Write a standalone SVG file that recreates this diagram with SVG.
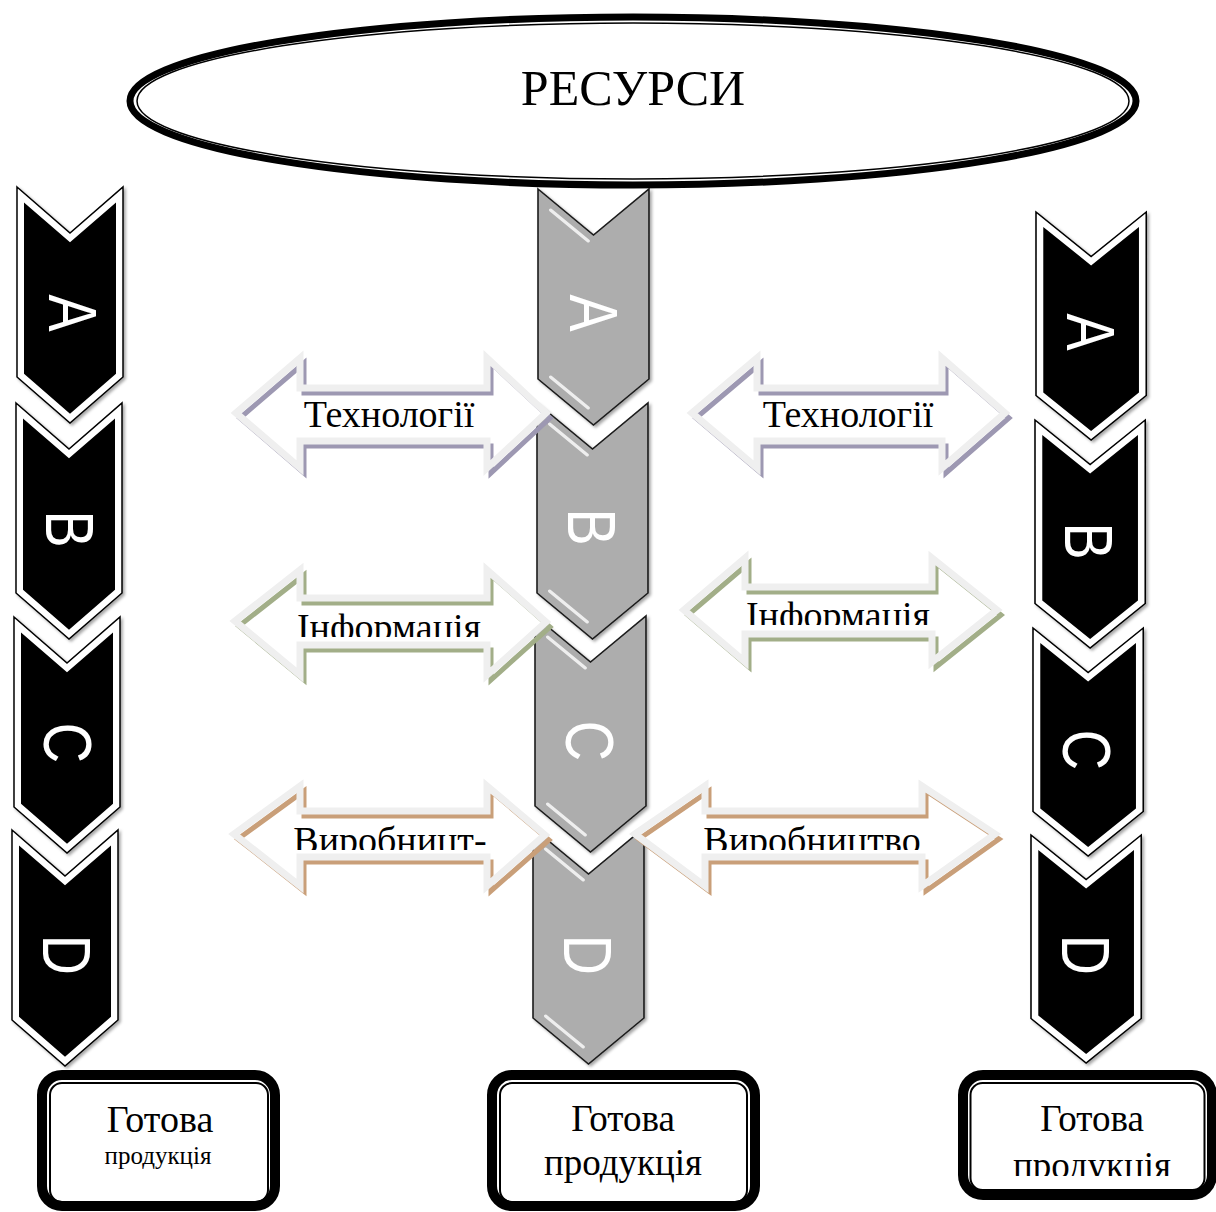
<svg xmlns="http://www.w3.org/2000/svg" xmlns:xlink="http://www.w3.org/1999/xlink" width="1216" height="1212" viewBox="0 0 1216 1212">
<style>
.let{font-family:"Liberation Sans",Arial,sans-serif;font-size:68px;fill:#fff;text-anchor:middle;dominant-baseline:central}
.atx{font-family:"Liberation Serif","Times New Roman",serif;font-size:38px;fill:#000;text-anchor:middle}
.btx{font-family:"Liberation Serif","Times New Roman",serif;fill:#000;text-anchor:middle}
.afill{fill:#fff;stroke:none}
.amain{fill:none;stroke:#efefef;stroke-width:7;stroke-linejoin:miter}
.sh1{fill:none;stroke:#9d98b2;stroke-width:5}
.sh2{fill:none;stroke:#a2ae88;stroke-width:5}
.sh3{fill:none;stroke:#c99f79;stroke-width:5}
.hl{stroke:#fff;stroke-width:3;stroke-linecap:round;opacity:.8}
</style>
<defs>
<path id="chev" d="M0,0 L53,46 L106,0 L106,190 L53,236 L0,190 Z"/>
<path id="chevIn" d="M7,15.4 L53,55.3 L99,15.4 L99,186.8 L53,226.7 L7,186.8 Z"/>
<filter id="ds" x="-10%" y="-10%" width="130%" height="130%">
<feDropShadow dx="2" dy="2" stdDeviation="1.5" flood-color="#000" flood-opacity="0.35"/>
</filter>
<g id="blk">
<use href="#chev" fill="#fff" stroke="#000" stroke-width="1.5" filter="url(#ds)"/>
<use href="#chevIn" fill="#000"/>
</g>
<g id="gry">
<use href="#chev" fill="#adadad" stroke="#1a1a1a" stroke-width="1.5" filter="url(#ds)"/>
<line class="hl" x1="12" y1="21" x2="48" y2="52"/>
<line class="hl" x1="12" y1="188" x2="48" y2="219"/>
</g>
<clipPath id="cI1"><rect x="230" y="590" width="330" height="47"/></clipPath>
<clipPath id="cI2"><rect x="680" y="578" width="330" height="47"/></clipPath>
<clipPath id="cV1"><rect x="230" y="800" width="330" height="50"/></clipPath>
<clipPath id="cV2"><rect x="630" y="800" width="380" height="50"/></clipPath>
<clipPath id="cP3"><rect x="960" y="1140" width="256" height="36"/></clipPath>
</defs>

<g id="col-left">
<g id="L-A"><use href="#blk" transform="translate(17,187)"/><text class="let" transform="translate(73,313) rotate(90) scale(0.82,1)">A</text></g>
<g id="L-B"><use href="#blk" transform="translate(16,403)"/><text class="let" transform="translate(70,529) rotate(90) scale(0.82,1)">B</text></g>
<g id="L-C"><use href="#blk" transform="translate(14,617)"/><text class="let" transform="translate(68,743) rotate(90) scale(0.82,1)">C</text></g>
<g id="L-D"><use href="#blk" transform="translate(12,830)"/><text class="let" transform="translate(67,955) rotate(90) scale(0.82,1)">D</text></g>
</g>

<g id="col-mid">
<g id="M-A"><use href="#gry" transform="translate(538,189) scale(1.047,1)"/><text class="let" transform="translate(594,313) rotate(90) scale(0.82,1)">A</text></g>
<g id="M-B"><use href="#gry" transform="translate(537,403) scale(1.047,1)"/><text class="let" transform="translate(592,527) rotate(90) scale(0.82,1)">B</text></g>
<g id="M-C"><use href="#gry" transform="translate(535,616) scale(1.047,1)"/><text class="let" transform="translate(590,741) rotate(90) scale(0.82,1)">C</text></g>
<g id="M-D"><use href="#gry" transform="translate(533,828) scale(1.047,1)"/><text class="let" transform="translate(588,955) rotate(90) scale(0.82,1)">D</text></g>
</g>

<g id="col-right">
<g id="R-A"><use href="#blk" transform="translate(1036,212) scale(1.04,0.966)"/><text class="let" transform="translate(1091,332) rotate(90) scale(0.82,1)">A</text></g>
<g id="R-B"><use href="#blk" transform="translate(1035,420) scale(1.04,0.966)"/><text class="let" transform="translate(1089,541) rotate(90) scale(0.82,1)">B</text></g>
<g id="R-C"><use href="#blk" transform="translate(1033,628) scale(1.04,0.966)"/><text class="let" transform="translate(1087,750) rotate(90) scale(0.82,1)">C</text></g>
<g id="R-D"><use href="#blk" transform="translate(1031,835) scale(1.04,0.966)"/><text class="let" transform="translate(1086,955) rotate(90) scale(0.82,1)">D</text></g>
</g>

<g id="resources">
<ellipse cx="633" cy="101" rx="503" ry="84" fill="#fff" stroke="#000" stroke-width="7"/>
<ellipse cx="633" cy="101" rx="496" ry="78" fill="none" stroke="#000" stroke-width="1.5"/>
<text x="633" y="105" style="font-family:'Liberation Serif','Times New Roman',serif;font-size:50px;text-anchor:middle">РЕСУРСИ</text>
</g>

<g id="connectors">
<g id="arrow-tech-left">
<path class="afill" d="M236,413 L300,358 L300,388 L487,388 L487,358 L546,413 L487,468 L487,441 L300,441 L300,468 Z"/>
<path class="sh1" transform="translate(4,5)" d="M236,413 L300,358 L300,388 L487,388 L487,358 L546,413 L487,468 L487,441 L300,441 L300,468 Z"/>
<path class="amain" d="M236,413 L300,358 L300,388 L487,388 L487,358 L546,413 L487,468 L487,441 L300,441 L300,468 Z"/>
<text class="atx" x="389" y="427">Технології</text>
</g>
<g id="arrow-tech-right">
<path class="afill" d="M692,413 L757,358 L757,388 L942,388 L942,358 L1005,413 L942,468 L942,441 L757,441 L757,468 Z"/>
<path class="sh1" transform="translate(4,5)" d="M692,413 L757,358 L757,388 L942,388 L942,358 L1005,413 L942,468 L942,441 L757,441 L757,468 Z"/>
<path class="amain" d="M692,413 L757,358 L757,388 L942,388 L942,358 L1005,413 L942,468 L942,441 L757,441 L757,468 Z"/>
<text class="atx" x="848" y="427">Технології</text>
</g>
<g id="arrow-info-left">
<path class="afill" d="M235,621 L300,570 L300,598 L487,598 L487,570 L546,622 L487,675 L487,645 L300,645 L300,675 Z"/>
<path class="sh2" transform="translate(4,5)" d="M235,621 L300,570 L300,598 L487,598 L487,570 L546,622 L487,675 L487,645 L300,645 L300,675 Z"/>
<path class="amain" d="M235,621 L300,570 L300,598 L487,598 L487,570 L546,622 L487,675 L487,645 L300,645 L300,675 Z"/>
<text class="atx" x="389" y="640" clip-path="url(#cI1)">Інформація</text>
</g>
<g id="arrow-info-right">
<path class="afill" d="M684,610 L745,558 L745,587 L932,587 L932,558 L997,610 L932,662 L932,634 L745,634 L745,662 Z"/>
<path class="sh2" transform="translate(4,5)" d="M684,610 L745,558 L745,587 L932,587 L932,558 L997,610 L932,662 L932,634 L745,634 L745,662 Z"/>
<path class="amain" d="M684,610 L745,558 L745,587 L932,587 L932,558 L997,610 L932,662 L932,634 L745,634 L745,662 Z"/>
<text class="atx" x="838" y="628" clip-path="url(#cI2)">Інформація</text>
</g>
<g id="arrow-prod-left">
<path class="afill" d="M234,834 L300,786 L300,811 L487,811 L487,786 L545,835 L487,886 L487,857 L300,857 L300,886 Z"/>
<path class="sh3" transform="translate(4,5)" d="M234,834 L300,786 L300,811 L487,811 L487,786 L545,835 L487,886 L487,857 L300,857 L300,886 Z"/>
<path class="amain" d="M234,834 L300,786 L300,811 L487,811 L487,786 L545,835 L487,886 L487,857 L300,857 L300,886 Z"/>
<text class="atx" x="390" y="853" clip-path="url(#cV1)">Виробницт-</text>
</g>
<g id="arrow-prod-right">
<path class="afill" d="M635,834 L705,786 L705,811 L922,811 L922,786 L995,834 L922,886 L922,857 L705,857 L705,886 Z"/>
<path class="sh3" transform="translate(4,5)" d="M635,834 L705,786 L705,811 L922,811 L922,786 L995,834 L922,886 L922,857 L705,857 L705,886 Z"/>
<path class="amain" d="M635,834 L705,786 L705,811 L922,811 L922,786 L995,834 L922,886 L922,857 L705,857 L705,886 Z"/>
<text class="atx" x="812" y="853" clip-path="url(#cV2)">Виробництво</text>
</g>
</g>

<g id="box-left">
<rect x="42" y="1075" width="233" height="131" rx="20" fill="#fff" stroke="#000" stroke-width="10"/>
<rect x="50" y="1083" width="218" height="119" rx="12" fill="none" stroke="#000" stroke-width="2"/>
<text class="btx" x="160" y="1132" font-size="38">Готова</text>
<text class="btx" x="158" y="1164" font-size="25">продукція</text>
</g>
<g id="box-mid">
<rect x="492" y="1075" width="263" height="131" rx="20" fill="#fff" stroke="#000" stroke-width="10"/>
<rect x="500" y="1083" width="247" height="119" rx="12" fill="none" stroke="#000" stroke-width="2"/>
<text class="btx" x="623" y="1131" font-size="37">Готова</text>
<text class="btx" x="623" y="1175" font-size="37">продукція</text>
</g>
<g id="box-right">
<rect x="963" y="1075" width="249" height="120" rx="20" fill="#fff" stroke="#000" stroke-width="10"/>
<rect x="970.5" y="1083" width="234" height="107" rx="12" fill="none" stroke="#000" stroke-width="2"/>
<text class="btx" x="1092" y="1131" font-size="37">Готова</text>
<text class="btx" x="1092" y="1178" font-size="37" clip-path="url(#cP3)">продукція</text>
</g>
</svg>
